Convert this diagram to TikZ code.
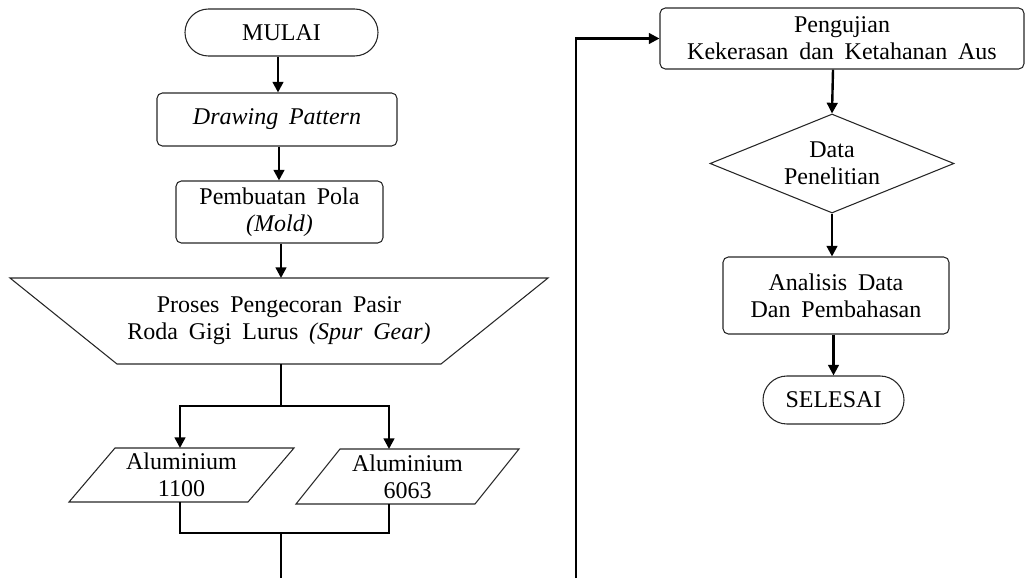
\documentclass[tikz,border=0pt]{standalone}
\usepackage{fontspec}
\setmainfont[WordSpace=1.8]{Liberation Serif}
\usetikzlibrary{shapes.geometric,shapes.misc,arrows.meta}
\begin{document}
\begin{tikzpicture}[x=0.75pt,y=-0.75pt,
  font=\fontsize{18}{20.25}\selectfont,
  shapeline/.style={draw=black!85, line width=0.8pt},
  txt/.style={align=center, inner sep=0pt},
  box/.style={shapeline, txt, rectangle, rounded corners=4pt},
  term/.style={shapeline, txt, rounded rectangle},
  frame/.style={txt, rectangle, outer sep=0pt},
  decision/.style={shapeline, txt, diamond, aspect=2.4},
  conn/.style={line width=1.8pt, line join=miter},
  arr/.style={conn, -{Triangle[length=8pt,width=8pt]}},
  arrboth/.style={conn, {Triangle[length=8pt,width=8pt]}-{Triangle[length=8pt,width=8pt]}}
]
\useasboundingbox (0,0) rectangle (1027,578);

% left column
\node[term, minimum width=144.75pt, minimum height=35.25pt] (mulai) at (281.5,32.5) {MULAI};
\node[box, minimum width=180pt, minimum height=39.75pt] (dp) at (277,119.5) {\itshape Drawing Pattern};
\node[box, minimum width=155.25pt, minimum height=46.5pt] (pola) at (279.5,212) {Pembuatan Pola\\\itshape (Mold)};

\node[frame, minimum width=403.5pt, minimum height=64.5pt] (proses) at (279,321) {Proses Pengecoran Pasir\\Roda Gigi Lurus \textit{(Spur Gear)}};
\draw[shapeline] (proses.north west) -- (proses.north east) -- ([xshift=-80.25pt]proses.south east) -- ([xshift=80.25pt]proses.south west) -- cycle;

\node[frame, minimum width=168.75pt, minimum height=40.5pt] (al1) at (181.5,475) {Aluminium\\1100};
\draw[shapeline] ([xshift=34.5pt]al1.north west) -- (al1.north east) -- ([xshift=-34.5pt]al1.south east) -- (al1.south west) -- cycle;

\node[frame, minimum width=167.25pt, minimum height=41.25pt] (al2) at (407.5,476.5) {Aluminium\\6063};
\draw[shapeline] ([xshift=33pt]al2.north west) -- (al2.north east) -- ([xshift=-33pt]al2.south east) -- (al2.south west) -- cycle;

% right column
\node[box, minimum width=273pt, minimum height=45.75pt] (uji) at (842,38.5) {Pengujian\\Kekerasan dan Ketahanan Aus};
\node[decision, minimum width=183pt, minimum height=74.25pt] (data) at (832,163.5) {Data\\Penelitian};
\node[box, minimum width=169.5pt, minimum height=57.75pt] (anal) at (836,295.5) {Analisis Data\\Dan Pembahasan};
\node[term, minimum width=105.75pt, minimum height=36pt] (selesai) at (833.5,400) {SELESAI};

% junction coordinates
\coordinate (b1) at (180,406);
\coordinate (b2) at (389,406);
\coordinate (m1) at (180,533);
\coordinate (m2) at (389,533);
\coordinate (bot1) at (281,578);
\coordinate (bot2) at (576,578);

% connectors left
\draw[arr] (mulai.south -| 278,0) -- (dp.north -| 278,0);
\draw[arr] (dp.south -| 279,0) -- (pola.north -| 279,0);
\draw[arr] (pola.south -| 281,0) -- (proses.north -| 281,0);
\draw[conn] (proses.south -| 281,0) -- (b1 -| 281,0);
\draw[arrboth] (b1 |- al1.north) -- (b1) -- (b2) -- (b2 |- al2.north);
\draw[conn] (b1 |- al1.south) -- (m1) -- (m2) -- (b2 |- al2.south);
\draw[conn] (m1 -| bot1) -- (bot1);

% connectors right
\draw[arr] (bot2) |- (uji.west);
\draw[arr] (uji.south -| 833,0) -- (data.north);
\draw[arr] (data.south) -- (data.south |- anal.north);
\draw[arr] (anal.south -| 833.5,0) -- (selesai.north);
\end{tikzpicture}
\end{document}
